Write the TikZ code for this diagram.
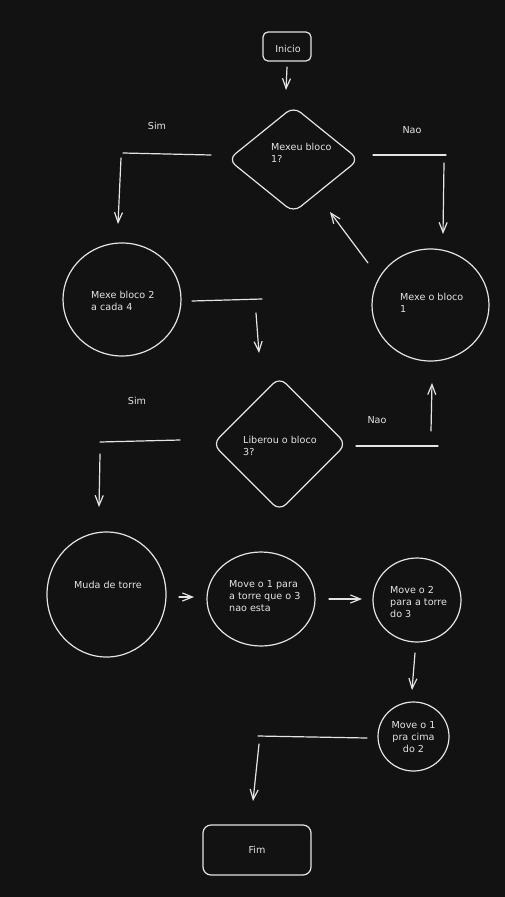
\documentclass[tikz,border=0pt]{standalone}
\usepackage{fontspec}
\setmainfont{DejaVu Sans}
\usetikzlibrary{arrows.meta,shapes.geometric}
\definecolor{bg}{HTML}{121212}
\definecolor{ink}{HTML}{E4E4E4}

\begin{document}
\begin{tikzpicture}[x=1pt,y=-1pt,
  stroke/.style={draw=ink, line width=1.2pt, line cap=round, line join=round},
  blob/.style={stroke, ellipse, inner sep=0pt},
  rhombus/.style={stroke, diamond, inner sep=0pt, rounded corners=9pt},
  termbox/.style={stroke, rectangle, inner sep=0pt},
  txt/.style={text=ink, font=\fontsize{9.6}{12}\selectfont, inner sep=0pt},
  lefttxt/.style={txt, align=left, anchor=base west},
  midtxt/.style={txt, align=center, anchor=base},
  flow/.style={stroke, -{Straight Barb[length=10pt,width=8pt]}},
  bar/.style={stroke}]

% canvas
\useasboundingbox (0,0) rectangle (504,897);
\fill[bg] (-3,-3) rectangle (507,900);

% ---- shapes ----
\node[termbox, rounded corners=5pt, minimum width=48pt, minimum height=29pt] (inicio) at (287,46.5) {};
\node[rhombus, minimum width=131pt, minimum height=106pt] (q1) at (293.5,159.5) {};
\node[blob, minimum width=118pt, minimum height=113pt] (mb2) at (122,299.5) {};
\node[blob, minimum width=117pt, minimum height=112pt] (mb1) at (430.5,305) {};
\node[rhombus, minimum width=134pt, minimum height=134pt] (q3) at (279.5,444) {};
\node[blob, minimum width=119pt, minimum height=125pt] (muda) at (106.5,594.5) {};
\node[blob, minimum width=108pt, minimum height=94pt] (mv1) at (261,599) {};
\node[blob, minimum width=88pt, minimum height=84pt] (mv2) at (417,600) {};
\node[blob, minimum width=71pt, minimum height=69pt] (mv1b) at (413.5,736.5) {};
\node[termbox, rounded corners=8pt, minimum width=108pt, minimum height=50pt] (fim) at (257,850) {};

% ---- texts (base anchor sits on the last line) ----
\node[midtxt] (tInicio) at (288,52) {Inicio};
\node[lefttxt] (tq1) at (271,162) {Mexeu bloco\\1?};
\node[lefttxt] (tmb2) at (91,310) {Mexe bloco 2\\a cada 4};
\node[lefttxt] (tmb1) at (400,312) {Mexe o bloco\\1};
\node[lefttxt] (tq3) at (243,455) {Liberou o bloco\\3?};
\node[lefttxt] (tmuda) at (74,588) {Muda de torre};
\node[lefttxt] (tmv1) at (229,611) {Move o 1 para\\a torre que o 3\\nao esta};
\node[lefttxt] (tmv2) at (390,617) {Move o 2\\para a torre\\do 3};
\node[midtxt] (tmv1b) at (413.5,752) {Move o 1\\pra cima\\do 2};
\node[midtxt] (tfim) at (257,853) {Fim};
\node[midtxt] (simA) at (157,129) {Sim};
\node[midtxt] (naoA) at (412,133) {Nao};
\node[midtxt] (simB) at (137,404) {Sim};
\node[midtxt] (naoB) at (377,423) {Nao};

% ---- connector points ----
\coordinate (a0) at (287,67);   \coordinate (a1) at (286,90);
\coordinate (s1) at (211,155);  \coordinate (s2) at (123,153);
\coordinate (s3) at (121,158);  \coordinate (s4) at (118,224);
\coordinate (n1) at (373,155);  \coordinate (n2) at (446,155);
\coordinate (n3) at (444,163);  \coordinate (n4) at (443,234);
\coordinate (r1) at (368,263);  \coordinate (r2) at (330,212);
\coordinate (m1) at (192,301);  \coordinate (m2) at (262,299);
\coordinate (m3) at (256,313);  \coordinate (m4) at (259,353);
\coordinate (t1) at (180,440);  \coordinate (t2) at (100,442);
\coordinate (t3) at (100,454);  \coordinate (t4) at (99,507);
\coordinate (u1) at (356,446);  \coordinate (u2) at (438,446);
\coordinate (u3) at (431,431);  \coordinate (u4) at (432,383);
\coordinate (h1) at (179,597);  \coordinate (h2) at (194,597);
\coordinate (h3) at (329,599);  \coordinate (h4) at (362,599);
\coordinate (d1) at (415,653);  \coordinate (d2) at (412,690);
\coordinate (f1) at (367,738);  \coordinate (f2) at (258,736);
\coordinate (f3) at (259,744);  \coordinate (f4) at (253,801);

% ---- connectors ----
\draw[flow] (a0) -- (a1);
\draw[bar]  (s1) -- (s2);
\draw[flow] (s3) -- (s4);
\draw[bar]  (n1) -- (n2);
\draw[flow] (n3) -- (n4);
\draw[flow] (r1) -- (r2);
\draw[bar]  (m1) -- (m2);
\draw[flow] (m3) -- (m4);
\draw[bar]  (t1) -- (t2);
\draw[flow] (t3) -- (t4);
\draw[bar]  (u1) -- (u2);
\draw[flow] (u3) -- (u4);
\draw[flow] (h1) -- (h2);
\draw[flow] (h3) -- (h4);
\draw[flow] (d1) -- (d2);
\draw[bar]  (f1) -- (f2);
\draw[flow] (f3) -- (f4);
\end{tikzpicture}
\end{document}
